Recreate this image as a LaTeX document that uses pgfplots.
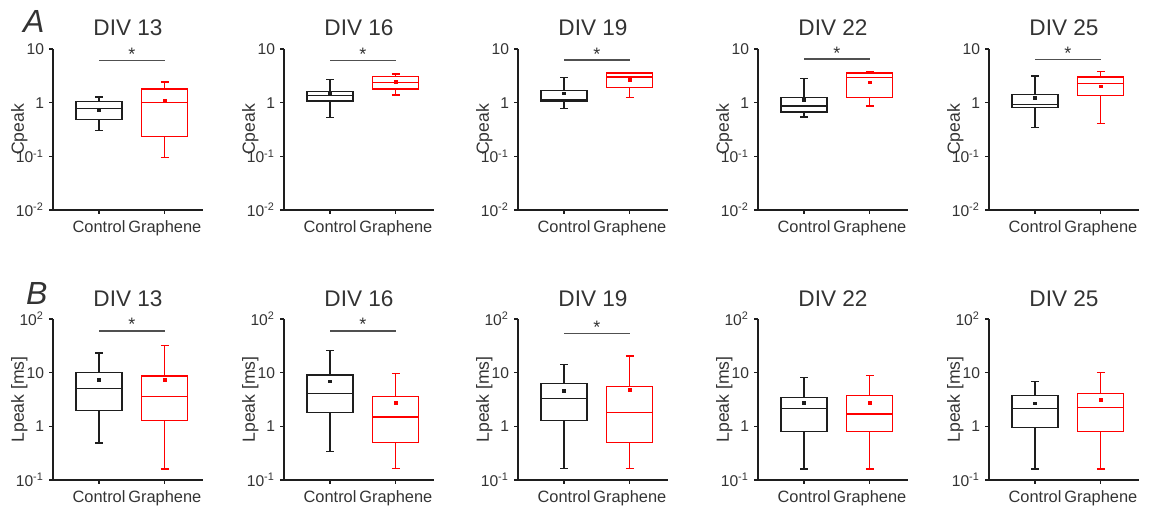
\documentclass[border=0pt]{standalone}
\usepackage{fontspec}
\setmainfont{Liberation Sans}
\usepackage{pgfplots}
\pgfplotsset{compat=1.18}
\usepgfplotslibrary{statistics}

\definecolor{txt}{RGB}{51,51,51}
\definecolor{ctl}{RGB}{30,30,30}
\definecolor{grp}{RGB}{255,0,0}
\definecolor{sigc}{RGB}{80,80,80}

\pgfplotsset{
  every axis/.append style={
    scale only axis, width=75pt, height=80.5pt,
    xmin=0.3, xmax=2.58, clip=false, ymode=log,
    axis lines=left, axis line style={-, line width=0.6pt, ctl},
    tick align=outside, major tick length=2pt, yminorticks=false,
    tick style={ctl, line width=0.6pt},
    xtick={1,2}, xticklabels={Control,Graphene},
    xticklabel style={font=\fontsize{8.2}{9}\selectfont, text=txt},
    yticklabel style={font=\fontsize{7.8}{8}\selectfont, text=txt, xshift=1pt},
    ylabel style={at={(axis description cs:-0.225,0.5)}, anchor=center,
                  font=\fontsize{8.8}{9}\selectfont, text=txt},
    title style={at={(0.5,1)}, anchor=base, font=\fontsize{11.3}{12}\selectfont, text=txt},
    boxplot/draw direction=y,
    boxplot/box extend=0.7, boxplot/whisker extend=0.12,
  },
}

\begin{document}
\begin{tikzpicture}
\path[use as bounding box] (0,0) rectangle (575pt,253pt);

\node[anchor=base west, font=\itshape\fontsize{16}{16}\selectfont, text=txt] at (8pt,236.5pt) {A};
\node[anchor=base west, font=\itshape\fontsize{16}{16}\selectfont, text=txt] at (9.5pt,100.5pt) {B};

% ---------- Cpeak, DIV 13 ----------
\begin{axis}[ymin=0.01, ymax=10, ytick={0.01,0.1,1,10},
    yticklabels={10\textsuperscript{-2},10\textsuperscript{-1},1,10},
    ylabel={Cpeak}, title style={yshift=0.8pt},
    at={(26.5pt,148pt)}, anchor=south west, title={DIV 13}]
\addplot[ctl, draw=ctl, line width=0.6pt, boxplot prepared={draw position=1, lower whisker=0.30, lower quartile=0.48,
  median=0.78, upper quartile=1.04, upper whisker=1.28}] coordinates {};
\addplot[grp, draw=grp, line width=0.6pt, boxplot prepared={draw position=2, lower whisker=0.095, lower quartile=0.235,
  median=1.0, upper quartile=1.80, upper whisker=2.43}] coordinates {};
\addplot[only marks, mark=square*, mark size=0.7pt, ctl] coordinates {(1,0.74)};
\addplot[only marks, mark=square*, mark size=0.7pt, grp] coordinates {(2,1.10)};
\addplot[sigc, line width=0.65pt] coordinates {(1,6.1) (2,6.1)};
\node[font=\fontsize{9}{9}\selectfont, anchor=base, text=txt] at (axis cs:1.5,6.1) {*};
\end{axis}

% ---------- Cpeak, DIV 16 ----------
\begin{axis}[ymin=0.01, ymax=10, ytick={0.01,0.1,1,10},
    yticklabels={10\textsuperscript{-2},10\textsuperscript{-1},1,10},
    ylabel={Cpeak}, title style={yshift=0.8pt},
    at={(142pt,148pt)}, anchor=south west, title={DIV 16}]
\addplot[ctl, draw=ctl, line width=0.6pt, boxplot prepared={draw position=1, lower whisker=0.525, lower quartile=1.07,
  median=1.37, upper quartile=1.63, upper whisker=2.72}] coordinates {};
\addplot[grp, draw=grp, line width=0.6pt, boxplot prepared={draw position=2, lower whisker=1.39, lower quartile=1.80,
  median=2.39, upper quartile=3.05, upper whisker=3.42}] coordinates {};
\addplot[only marks, mark=square*, mark size=0.7pt, ctl] coordinates {(1,1.49)};
\addplot[only marks, mark=square*, mark size=0.7pt, grp] coordinates {(2,2.40)};
\addplot[sigc, line width=0.65pt] coordinates {(1,6.15) (2,6.15)};
\node[font=\fontsize{9}{9}\selectfont, anchor=base, text=txt] at (axis cs:1.5,6.15) {*};
\end{axis}

% ---------- Cpeak, DIV 19 ----------
\begin{axis}[ymin=0.01, ymax=10, ytick={0.01,0.1,1,10},
    yticklabels={10\textsuperscript{-2},10\textsuperscript{-1},1,10},
    ylabel={Cpeak}, title style={yshift=0.8pt},
    at={(259pt,148pt)}, anchor=south west, title={DIV 19}]
\addplot[ctl, draw=ctl, line width=0.6pt, boxplot prepared={draw position=1, lower whisker=0.77, lower quartile=1.07,
  median=1.15, upper quartile=1.67, upper whisker=2.96}] coordinates {};
\addplot[grp, draw=grp, line width=0.6pt, boxplot prepared={draw position=2, lower whisker=1.24, lower quartile=1.90,
  median=3.0, upper quartile=3.57, upper whisker=3.62}] coordinates {};
\addplot[only marks, mark=square*, mark size=0.7pt, ctl] coordinates {(1,1.49)};
\addplot[only marks, mark=square*, mark size=0.7pt, grp] coordinates {(2,2.64)};
\addplot[sigc, line width=0.65pt] coordinates {(1,6.2) (2,6.2)};
\node[font=\fontsize{9}{9}\selectfont, anchor=base, text=txt] at (axis cs:1.5,6.2) {*};
\end{axis}

% ---------- Cpeak, DIV 22 ----------
\begin{axis}[ymin=0.01, ymax=10, ytick={0.01,0.1,1,10},
    yticklabels={10\textsuperscript{-2},10\textsuperscript{-1},1,10},
    ylabel={Cpeak}, title style={yshift=0.8pt},
    at={(379pt,148pt)}, anchor=south west, title={DIV 22}]
\addplot[ctl, draw=ctl, line width=0.6pt, boxplot prepared={draw position=1, lower whisker=0.54, lower quartile=0.67,
  median=0.87, upper quartile=1.26, upper whisker=2.84}] coordinates {};
\addplot[grp, draw=grp, line width=0.6pt, boxplot prepared={draw position=2, lower whisker=0.87, lower quartile=1.26,
  median=2.97, upper quartile=3.57, upper whisker=3.78}] coordinates {};
\addplot[only marks, mark=square*, mark size=0.7pt, ctl] coordinates {(1,1.14)};
\addplot[only marks, mark=square*, mark size=0.7pt, grp] coordinates {(2,2.39)};
\addplot[sigc, line width=0.65pt] coordinates {(1,6.5) (2,6.5)};
\node[font=\fontsize{9}{9}\selectfont, anchor=base, text=txt] at (axis cs:1.5,6.5) {*};
\end{axis}

% ---------- Cpeak, DIV 25 ----------
\begin{axis}[ymin=0.01, ymax=10, ytick={0.01,0.1,1,10},
    yticklabels={10\textsuperscript{-2},10\textsuperscript{-1},1,10},
    ylabel={Cpeak}, title style={yshift=0.8pt},
    at={(494.5pt,148pt)}, anchor=south west, title={DIV 25}]
\addplot[ctl, draw=ctl, line width=0.6pt, boxplot prepared={draw position=1, lower whisker=0.35, lower quartile=0.80,
  median=0.93, upper quartile=1.43, upper whisker=3.14}] coordinates {};
\addplot[grp, draw=grp, line width=0.6pt, boxplot prepared={draw position=2, lower whisker=0.41, lower quartile=1.35,
  median=2.29, upper quartile=3.01, upper whisker=3.78}] coordinates {};
\addplot[only marks, mark=square*, mark size=0.7pt, ctl] coordinates {(1,1.24)};
\addplot[only marks, mark=square*, mark size=0.7pt, grp] coordinates {(2,2.01)};
\addplot[sigc, line width=0.65pt] coordinates {(1,6.3) (2,6.3)};
\node[font=\fontsize{9}{9}\selectfont, anchor=base, text=txt] at (axis cs:1.5,6.3) {*};
\end{axis}

% ---------- Lpeak, DIV 13 ----------
\begin{axis}[ymin=0.1, ymax=100, ytick={0.1,1,10,100},
    yticklabels={10\textsuperscript{-1},1,10,10\textsuperscript{2}},
    ylabel={Lpeak [ms]}, title style={yshift=0pt},
    at={(26.5pt,13pt)}, anchor=south west, title={DIV 13}]
\addplot[ctl, draw=ctl, line width=0.6pt, boxplot prepared={draw position=1, lower whisker=0.49, lower quartile=1.95,
  median=5.07, upper quartile=9.9, upper whisker=23.2}] coordinates {};
\addplot[grp, draw=grp, line width=0.6pt, boxplot prepared={draw position=2, lower whisker=0.16, lower quartile=1.27,
  median=3.65, upper quartile=8.7, upper whisker=32.6}] coordinates {};
\addplot[only marks, mark=square*, mark size=0.7pt, ctl] coordinates {(1,7.3)};
\addplot[only marks, mark=square*, mark size=0.7pt, grp] coordinates {(2,7.3)};
\addplot[sigc, line width=0.65pt] coordinates {(1,60) (2,60)};
\node[font=\fontsize{9}{9}\selectfont, anchor=base, text=txt] at (axis cs:1.5,60) {*};
\end{axis}

% ---------- Lpeak, DIV 16 ----------
\begin{axis}[ymin=0.1, ymax=100, ytick={0.1,1,10,100},
    yticklabels={10\textsuperscript{-1},1,10,10\textsuperscript{2}},
    ylabel={Lpeak [ms]}, title style={yshift=0pt},
    at={(142pt,13pt)}, anchor=south west, title={DIV 16}]
\addplot[ctl, draw=ctl, line width=0.6pt, boxplot prepared={draw position=1, lower whisker=0.335, lower quartile=1.82,
  median=4.08, upper quartile=9.06, upper whisker=25.9}] coordinates {};
\addplot[grp, draw=grp, line width=0.6pt, boxplot prepared={draw position=2, lower whisker=0.162, lower quartile=0.50,
  median=1.49, upper quartile=3.65, upper whisker=9.5}] coordinates {};
\addplot[only marks, mark=square*, mark size=0.7pt, ctl] coordinates {(1,6.9)};
\addplot[only marks, mark=square*, mark size=0.7pt, grp] coordinates {(2,2.7)};
\addplot[sigc, line width=0.65pt] coordinates {(1,60) (2,60)};
\node[font=\fontsize{9}{9}\selectfont, anchor=base, text=txt] at (axis cs:1.5,60) {*};
\end{axis}

% ---------- Lpeak, DIV 19 ----------
\begin{axis}[ymin=0.1, ymax=100, ytick={0.1,1,10,100},
    yticklabels={10\textsuperscript{-1},1,10,10\textsuperscript{2}},
    ylabel={Lpeak [ms]}, title style={yshift=0pt},
    at={(259pt,13pt)}, anchor=south west, title={DIV 19}]
\addplot[ctl, draw=ctl, line width=0.6pt, boxplot prepared={draw position=1, lower whisker=0.162, lower quartile=1.29,
  median=3.35, upper quartile=6.25, upper whisker=14.1}] coordinates {};
\addplot[grp, draw=grp, line width=0.6pt, boxplot prepared={draw position=2, lower whisker=0.162, lower quartile=0.50,
  median=1.84, upper quartile=5.43, upper whisker=20.4}] coordinates {};
\addplot[only marks, mark=square*, mark size=0.7pt, ctl] coordinates {(1,4.58)};
\addplot[only marks, mark=square*, mark size=0.7pt, grp] coordinates {(2,4.8)};
\addplot[sigc, line width=0.65pt] coordinates {(1,54) (2,54)};
\node[font=\fontsize{9}{9}\selectfont, anchor=base, text=txt] at (axis cs:1.5,54) {*};
\end{axis}

% ---------- Lpeak, DIV 22 ----------
\begin{axis}[ymin=0.1, ymax=100, ytick={0.1,1,10,100},
    yticklabels={10\textsuperscript{-1},1,10,10\textsuperscript{2}},
    ylabel={Lpeak [ms]}, title style={yshift=0pt},
    at={(379pt,13pt)}, anchor=south west, title={DIV 22}]
\addplot[ctl, draw=ctl, line width=0.6pt, boxplot prepared={draw position=1, lower whisker=0.16, lower quartile=0.81,
  median=2.15, upper quartile=3.49, upper whisker=8.2}] coordinates {};
\addplot[grp, draw=grp, line width=0.6pt, boxplot prepared={draw position=2, lower whisker=0.16, lower quartile=0.81,
  median=1.69, upper quartile=3.8, upper whisker=8.8}] coordinates {};
\addplot[only marks, mark=square*, mark size=0.7pt, ctl] coordinates {(1,2.7)};
\addplot[only marks, mark=square*, mark size=0.7pt, grp] coordinates {(2,2.7)};
\end{axis}

% ---------- Lpeak, DIV 25 ----------
\begin{axis}[ymin=0.1, ymax=100, ytick={0.1,1,10,100},
    yticklabels={10\textsuperscript{-1},1,10,10\textsuperscript{2}},
    ylabel={Lpeak [ms]}, title style={yshift=0pt},
    at={(494.5pt,13pt)}, anchor=south west, title={DIV 25}]
\addplot[ctl, draw=ctl, line width=0.6pt, boxplot prepared={draw position=1, lower whisker=0.16, lower quartile=0.96,
  median=2.15, upper quartile=3.8, upper whisker=6.8}] coordinates {};
\addplot[grp, draw=grp, line width=0.6pt, boxplot prepared={draw position=2, lower whisker=0.16, lower quartile=0.81,
  median=2.25, upper quartile=4.08, upper whisker=10.0}] coordinates {};
\addplot[only marks, mark=square*, mark size=0.7pt, ctl] coordinates {(1,2.67)};
\addplot[only marks, mark=square*, mark size=0.7pt, grp] coordinates {(2,3.12)};
\end{axis}

\end{tikzpicture}
\end{document}
